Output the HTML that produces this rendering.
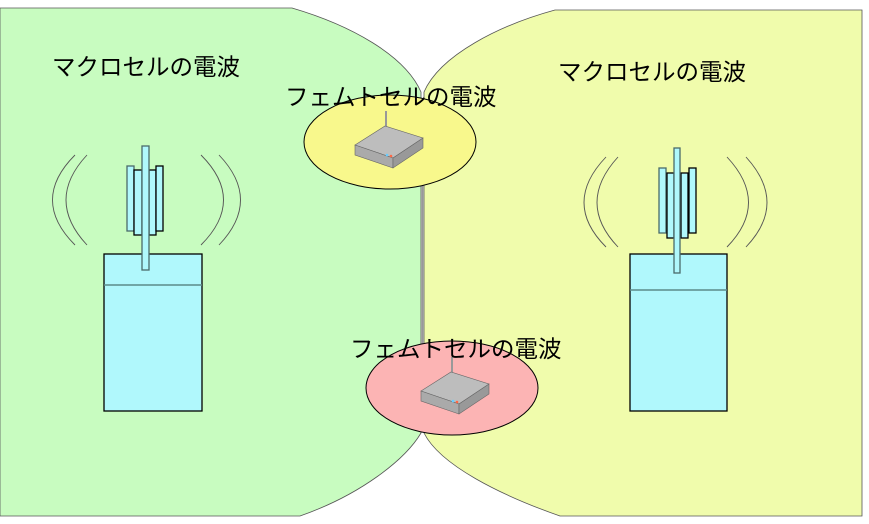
<!DOCTYPE html>
<html><head><meta charset="utf-8"><style>body{margin:0;background:#fff}svg{display:block}text{font-family:"Liberation Sans","Noto Sans CJK JP",sans-serif;font-size:23.5px;fill:#000}</style></head><body>
<svg width="869" height="524" viewBox="0 0 869 524">
<path d="M0,8 L292,8 C350,25 405,55 421,92 L421,433 C405,460 360,495 300,516 L0,516 Z" fill="#c8fcc0" stroke="#555" stroke-width="0.8"/>
<path d="M555,10 L862,10 L862,516 L560,516 C500,495 440,465 424,433 L424,92 C440,55 500,25 555,10 Z" fill="#f0fcac" stroke="#555" stroke-width="0.8"/>
<line x1="422.5" y1="180" x2="422.5" y2="345" stroke="#999" stroke-width="1.5"/>
<ellipse cx="390" cy="142" rx="86" ry="47" fill="#f8f88c" stroke="#000" stroke-width="1"/>
<ellipse cx="452" cy="388" rx="86" ry="47" fill="#fcb4b4" stroke="#000" stroke-width="1"/>
<g id="r1" stroke="#666" stroke-width="0.6">
<line x1="386" y1="111" x2="386" y2="131" stroke="#999" stroke-width="2"/>
<polygon points="355,145 385,126 423,138 393,158" fill="#bdbdbd"/>
<polygon points="355,145 393,158 393,168 355,155" fill="#aaa"/>
<polygon points="393,158 423,138 423,148 393,168" fill="#999"/>
<circle cx="387" cy="155" r="1.3" fill="#6cf" stroke="none"/><circle cx="391" cy="156" r="1.3" fill="#f64" stroke="none"/>
</g>
<use href="#r1" transform="translate(66,246)"/>
<text x="52" y="75">マクロセルの電波</text>
<text x="558" y="80">マクロセルの電波</text>
<text x="285" y="105">フェムトセルの電波</text>
<text x="350" y="357">フェムトセルの電波</text>
<g stroke="#000" stroke-width="1.3">
<rect x="104" y="254" width="98" height="157" fill="#b0f8fc"/>
<line x1="104" y1="285" x2="202" y2="285" stroke="#5a8a8a" stroke-width="1.5"/>
<rect x="127" y="166" width="7" height="65" fill="#b0f8fc" stroke="#4a6a6a"/>
<rect x="134" y="170" width="8" height="65" fill="#b0f8fc"/>
<rect x="149" y="170" width="7" height="65" fill="#b0f8fc"/>
<rect x="156" y="166" width="7" height="65" fill="#b0f8fc"/>
<rect x="142" y="146" width="7" height="124" fill="#b0f8fc" stroke="#4a6a6a"/>
<rect x="630" y="254" width="97" height="157" fill="#b0f8fc"/>
<line x1="630" y1="290" x2="727" y2="290" stroke="#5a8a8a" stroke-width="1.5"/>
<rect x="659" y="168" width="7" height="65" fill="#b0f8fc" stroke="#4a6a6a"/>
<rect x="667" y="173" width="7" height="65" fill="#b0f8fc"/>
<rect x="681" y="173" width="7" height="65" fill="#b0f8fc"/>
<rect x="689" y="168" width="7" height="65" fill="#b0f8fc"/>
<rect x="674" y="148" width="6" height="125" fill="#b0f8fc" stroke="#4a6a6a"/>
</g>
<g fill="none" stroke="#555" stroke-width="0.9">
<path d="M75,155 Q30,200 75,245"/><path d="M87,155 Q45,200 87,245"/>
<path d="M201,155 Q246,200 201,245"/><path d="M219,155 Q262,200 219,245"/>
<path d="M606,157 Q562,203 606,247"/><path d="M618,157 Q576,203 618,247"/>
<path d="M727,157 Q770,203 727,247"/><path d="M746,157 Q788,203 746,247"/>
</g>
</svg>
</body></html>
